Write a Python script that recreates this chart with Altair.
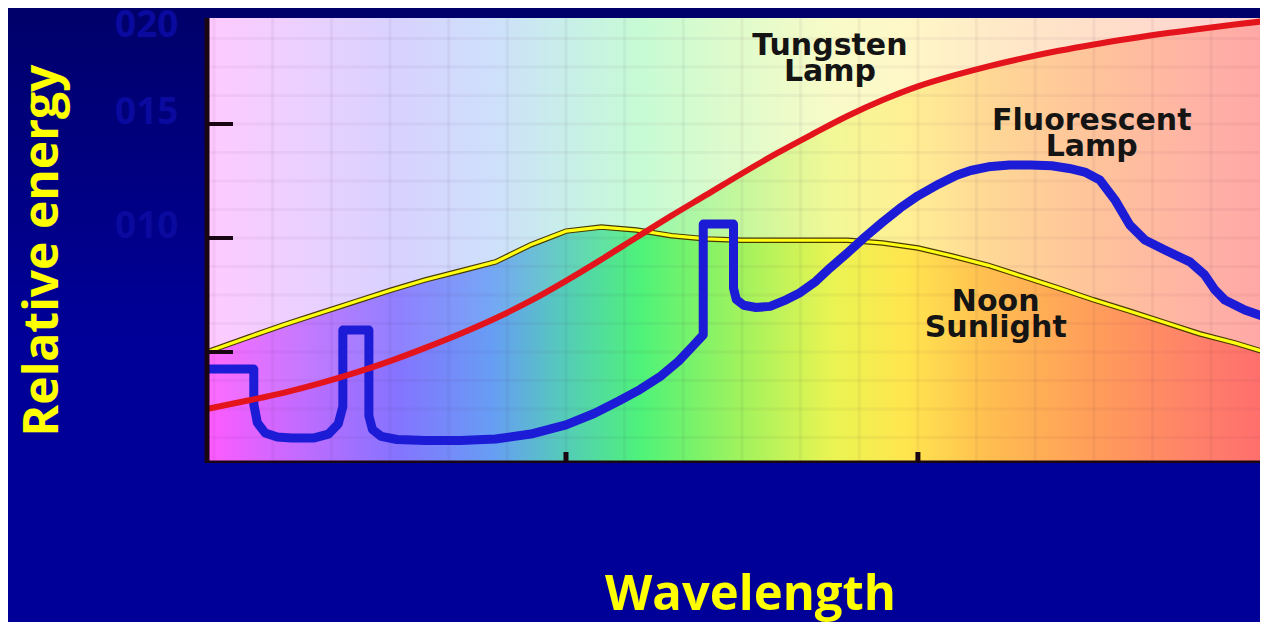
import altair as alt
import pandas as pd

# ---- scale extents (wavelength in nm, relative energy) ----
WL_MIN, WL_MAX = 398.0, 699.4      # extent of the spectrum picture
WL_VIEW_MAX = 697.2                # what fits in the window
E_MIN, E_MAX = 0.0013, 0.2
E_IMG_TOP = 0.1965

# ---- curves ----
tungsten_nm = [398, 410, 420, 430, 440, 450, 460, 470, 480, 490, 500, 510, 520, 530, 540,
               550, 560, 570, 580, 590, 600, 610, 620, 630, 640, 650, 660, 670, 680, 690, 699.4]
tungsten_e = [0.025, 0.0288, 0.0322, 0.0362, 0.0408, 0.046, 0.0518, 0.058, 0.0648, 0.0725,
              0.0812, 0.0905, 0.1002, 0.1098, 0.119, 0.1283, 0.1372, 0.1455, 0.1535, 0.1605,
              0.1665, 0.1712, 0.1753, 0.1789, 0.1821, 0.1849, 0.1874, 0.1897, 0.1917, 0.1936, 0.1953]

sun_nm = tungsten_nm
sun_e = [0.050, 0.0566, 0.062, 0.067, 0.072, 0.077, 0.0816, 0.0855, 0.0895, 0.097,
         0.103, 0.1048, 0.1035, 0.101, 0.0996, 0.099, 0.099, 0.099, 0.099, 0.0978,
         0.0956, 0.092, 0.088, 0.083, 0.078, 0.0728, 0.068, 0.063, 0.058, 0.054, 0.0496]

fluor_nm = [398.0, 411.3, 411.3, 412.3, 414.5, 418.0, 422.0, 428.5, 432.5, 435.3, 436.6, 436.6,
            444.0, 444.0, 445.0, 447.5, 452.0, 460.0, 470.0, 480.0, 490.0, 500.0, 508.0, 515.0,
            521.0, 527.0, 532.0, 536.0, 539.0, 539.0, 547.6, 547.6, 548.4, 550.5, 554.0, 558.0,
            562.0, 566.5, 571.0, 575.0, 580.0, 585.0, 590.0, 595.0, 600.0, 606.0, 611.0, 615.0,
            620.0, 626.0, 632.0, 638.0, 643.0, 647.4, 651.7, 656.0, 660.2, 664.5, 670.2, 677.3,
            681.5, 684.4, 687.2, 692.9, 699.4]
fluor_e = [0.0425, 0.0425, 0.027, 0.019, 0.0145, 0.0127, 0.0123, 0.0123, 0.0140, 0.0185, 0.026, 0.0596,
           0.0596, 0.022, 0.0160, 0.0130, 0.0116, 0.0112, 0.0112, 0.0118, 0.0140, 0.0180, 0.0230, 0.0285,
           0.0335, 0.0395, 0.0460, 0.0525, 0.0575, 0.1061, 0.1061, 0.0780, 0.0730, 0.0705, 0.0695, 0.0700,
           0.0725, 0.0760, 0.0810, 0.0868, 0.0935, 0.1005, 0.1070, 0.1132, 0.1185, 0.1237, 0.1275, 0.1296,
           0.1312, 0.1320, 0.1320, 0.1317, 0.1305, 0.1289, 0.1254, 0.1167, 0.1057, 0.0991, 0.0947, 0.0895,
           0.0838, 0.0772, 0.0728, 0.0684, 0.0649]

# ---- axes / ticks / grid ----
y_label_values = [0.10, 0.15, 0.20]
y_tick_values = [0.05, 0.10, 0.15]
x_tick_values = [500, 600]
grid_x = [400 + k * 100 / 6 for k in range(18)]
grid_y = [k * 0.0125 for k in range(1, 16)]

# ---- annotations ----
ann_text = ["Tungsten\nLamp", "Fluorescent\nLamp", "Noon\nSunlight"]
ann_nm = [575.0, 649.4, 622.1]
ann_e = [0.1844, 0.1512, 0.0720]

# ---- styling ----
sat_stops = [(0.00, "#ff3cff"), (0.09, "#b450ff"), (0.18, "#6e5aff"), (0.27, "#4a8cf2"),
             (0.34, "#34c4a8"), (0.41, "#2ef060"), (0.50, "#8cf040"), (0.59, "#e6f232"),
             (0.66, "#ffe02e"), (0.74, "#ffb030"), (0.84, "#ff8a3c"), (0.93, "#ff6a4e"),
             (1.00, "#ff5252")]


def mix_white(hexc, w):
    r, g, b = (int(hexc[i:i + 2], 16) for i in (1, 3, 5))
    r, g, b = (round(c * (1 - w) + 255 * w) for c in (r, g, b))
    return f"#{r:02x}{g:02x}{b:02x}"


def grad(stops):
    return alt.Gradient(gradient="linear", x1=0, x2=1, y1=0, y2=0,
                        stops=[alt.GradientStop(offset=o, color=c) for o, c in stops])


SAT = grad(sat_stops)
PASTEL = grad([(o, mix_white(c, 0.73)) for o, c in sat_stops])
PAGE = alt.Gradient(gradient="linear", x1=0, x2=0, y1=0, y2=1,
                    stops=[alt.GradientStop(offset=0, color="#00006a"),
                           alt.GradientStop(offset=0.55, color="#000099"),
                           alt.GradientStop(offset=1, color="#000099")])

TITLE_FONT = "Open Sans"
CHART_W, CHART_H = 1252, 614
PAD_L, PAD_T = 199, 2
W, H = CHART_W - PAD_L, 453
xs = alt.Scale(domain=[WL_MIN, WL_VIEW_MAX], nice=False, zero=False)
ys = alt.Scale(domain=[E_MIN, E_MAX], nice=False, zero=False)

x_axis = alt.Axis(values=x_tick_values, labels=False, ticks=False, domain=False, grid=False,
                  title="Wavelength", titleColor="#ffff00", titleFont=TITLE_FONT,
                  titleFontSize=49, titleFontWeight="bold", titleX=543, titleY=146,
                  titleAlign="center", titleBaseline="alphabetic", zindex=1)
y_axis = alt.Axis(values=y_label_values, ticks=False, domain=False, grid=False,
                  labelExpr="replace(format(datum.value, '.2f'), '.', '')",
                  labelColor="#0a0a9e", labelFont=TITLE_FONT, labelFontSize=37,
                  labelFontWeight="bold", labelPadding=29, labelBaseline="middle",
                  labelOffset={"condition": {"test": "datum.value > 0.19", "value": 15}, "value": -11},
                  title="Relative energy", titleColor="#ffff00", titleFont=TITLE_FONT,
                  titleFontSize=48, titleFontWeight="bold", titleAngle=270, titleX=-150,
                  titleY=240, titleAlign="center", titleBaseline="alphabetic", zindex=1)


def X(f):
    return alt.X(f, type="quantitative", scale=xs, axis=x_axis)


def Y(f):
    return alt.Y(f, type="quantitative", scale=ys, axis=y_axis, stack=False)


bg_df = pd.DataFrame({"x0": [WL_MIN], "x1": [WL_MAX], "y0": [E_MIN], "y1": [E_IMG_TOP]})
tung_df = pd.DataFrame({"nm": tungsten_nm, "e": tungsten_e})
sun_df = pd.DataFrame({"nm": sun_nm, "e": sun_e})
fl_df = pd.DataFrame({"nm": fluor_nm, "e": fluor_e, "i": list(range(len(fluor_nm)))})
gx_df = pd.DataFrame({"g": grid_x})
gy_df = pd.DataFrame({"g": grid_y})
yt_df = pd.DataFrame({"t": y_tick_values})
xt_df = pd.DataFrame({"t": x_tick_values})
ann_df = pd.DataFrame({"label": ann_text, "nm": ann_nm, "e": ann_e})

# slide background behind everything (whole chart area)
page = alt.Chart(bg_df).mark_rect(fill=PAGE).encode(
    x=alt.value(-PAD_L), x2=alt.value(CHART_W - PAD_L), y=alt.value(-PAD_T), y2=alt.value(CHART_H - PAD_T))
bg = alt.Chart(bg_df).mark_rect(fill=PASTEL, clip=True).encode(x=X("x0"), x2="x1", y=Y("y0"), y2="y1")
area_t = alt.Chart(tung_df).mark_area(fill=SAT, opacity=0.33, clip=True).encode(x=X("nm"), y=Y("e"))
area_s = alt.Chart(sun_df).mark_area(fill=SAT, opacity=0.68, clip=True).encode(x=X("nm"), y=Y("e"))
area_f = alt.Chart(fl_df).mark_area(fill=SAT, opacity=0.35, clip=True).encode(
    x=X("nm"), y=Y("e"), order=alt.Order("i:Q"))

grid_v = alt.Chart(gx_df).mark_rule(color="#3a2050", opacity=0.05, strokeWidth=3).encode(
    x=X("g"), y=alt.value(8), y2=alt.value(H))
grid_h = alt.Chart(gy_df).mark_rule(color="#3a2050", opacity=0.045, strokeWidth=3).encode(
    y=Y("g"), x=alt.value(0), x2=alt.value(W))

sun_dark = alt.Chart(sun_df).mark_line(color="#4a3a00", strokeWidth=5.5, clip=True).encode(x=X("nm"), y=Y("e"))
sun_line = alt.Chart(sun_df).mark_line(color="#ffff14", strokeWidth=3.2, clip=True).encode(x=X("nm"), y=Y("e"))
fl_line = alt.Chart(fl_df).mark_line(color="#1c1cd6", strokeWidth=9, strokeJoin="round",
                                     strokeCap="round", clip=True).encode(
    x=X("nm"), y=Y("e"), order=alt.Order("i:Q"))
tung_line = alt.Chart(tung_df).mark_line(color="#e4141c", strokeWidth=6, interpolate="monotone",
                                         clip=True).encode(x=X("nm"), y=Y("e"))

frame_l = alt.Chart(bg_df).mark_rule(color="#1a0612", strokeWidth=5).encode(x=X("x0"), y=Y("y0"), y2="y1")
frame_b = alt.Chart(bg_df).mark_rule(color="#1a0612", strokeWidth=5, clip=True).encode(
    y=Y("y0"), x=X("x0"), x2="x1")
yticks = alt.Chart(yt_df).mark_rule(color="#1a0612", strokeWidth=4).encode(
    y=Y("t"), x=alt.value(0), x2=alt.value(26))
xticks = alt.Chart(xt_df).mark_rule(color="#1a0612", strokeWidth=5).encode(
    x=X("t"), y=alt.value(H), y2=alt.value(H - 11))

labels = alt.Chart(ann_df).mark_text(lineBreak="\n", font="DejaVu Sans", fontWeight="bold",
                                     fontSize=30, lineHeight=26, color="#141414",
                                     align="center", baseline="middle").encode(
    x=X("nm"), y=Y("e"), text="label:N")

chart = alt.layer(page, bg, area_t, area_s, area_f, grid_v, grid_h, sun_dark, sun_line, fl_line,
                  tung_line, frame_l, frame_b, yticks, xticks, labels).properties(
    width=W, height=H,
    autosize=alt.AutoSizeParams(type="none"),
    padding={"left": PAD_L, "top": PAD_T, "right": 0, "bottom": CHART_H - PAD_T - H},
    background="#000099",
).configure_view(strokeWidth=0)

chart.save("out.html", embed_options={"renderer": "svg", "actions": False})
